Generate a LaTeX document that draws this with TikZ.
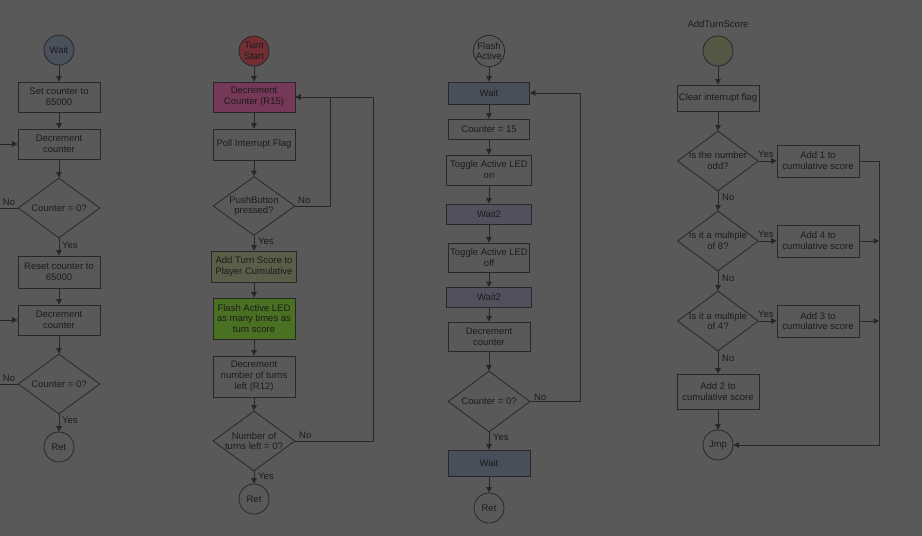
\documentclass[tikz,border=0pt]{standalone}
\usepackage{fontspec}
\setmainfont{Liberation Sans}
\usetikzlibrary{shapes.geometric,arrows.meta}
\definecolor{bg}{RGB}{89,89,89}
\definecolor{lc}{RGB}{40,40,40}
\definecolor{tc}{RGB}{28,28,28}
\definecolor{cwait}{RGB}{74,80,92}
\definecolor{cred}{RGB}{114,46,50}
\definecolor{cmag}{RGB}{118,56,88}
\definecolor{colive}{RGB}{88,94,72}
\definecolor{cgreen}{RGB}{74,112,34}
\definecolor{cslate}{RGB}{72,78,90}
\definecolor{cpurp}{RGB}{84,79,92}
\definecolor{cats}{RGB}{86,88,70}
\newcommand{\ff}{\fontsize{9.5}{10.8}\selectfont}
\tikzset{
  box/.style={draw=lc, line width=0.8pt, minimum width=82pt, minimum height=30pt, inner sep=1pt, align=center, font=\ff, text=tc},
  circ/.style={circle, draw=lc, line width=0.8pt, minimum size=30pt, inner sep=0pt, align=center, font=\ff, text=tc},
  dia/.style={diamond, draw=lc, line width=0.8pt, minimum width=82pt, minimum height=60pt, inner sep=0pt},
  dtext/.style={align=center, font=\ff, text=tc, inner sep=0pt},
  lab/.style={font=\ff, text=tc, inner sep=0pt},
  arr/.style={draw=lc, line width=0.8pt, -{Triangle[length=5.5pt,width=5.5pt]}},
  ln/.style={draw=lc, line width=0.8pt}
}
\begin{document}
\begin{tikzpicture}[x=1pt,y=-1pt]
\fill[bg] (0,0) rectangle (922,536);
\useasboundingbox (0,0) rectangle (922,536);
% ---------- Column 1 ----------
\node[circ, fill=cwait] (w) at (59,50) {Wait};
\node[box] (set) at (59,97) {Set counter to\\65000};
\node[box] (dec1) at (59,144) {Decrement\\counter};
\node[dia] (d1) at (59,208) {};
\node[dtext] (d1t) at (d1) {Counter = 0?};
\node[box, minimum height=32pt] (reset) at (59,272) {Reset counter to\\65000};
\node[box] (dec2) at (59,320) {Decrement\\counter};
\node[dia] (d2) at (59,384) {};
\node[dtext] (d2t) at (d2) {Counter = 0?};
\node[circ] (r1) at (59,447) {Ret};
\coordinate (in1) at (0,144);
\coordinate (in2) at (0,320);
\coordinate (o1) at (0,208);
\coordinate (o2) at (0,384);
\draw[arr] (w) -- (set);
\draw[arr] (set) -- (dec1);
\draw[arr] (dec1) -- (d1);
\draw[arr] (d1) -- (reset);
\draw[arr] (reset) -- (dec2);
\draw[arr] (dec2) -- (d2);
\draw[arr] (d2) -- (r1);
\draw[arr] (in1) -- (dec1);
\draw[arr] (in2) -- (dec2);
\draw[ln] (d1.west) -- (o1);
\draw[ln] (d2.west) -- (o2);
\node[lab] (n1) at (9,202) {No};
\node[lab] (n2) at (9,378) {No};
\node[lab, anchor=west] (y1) at (62,245) {Yes};
\node[lab, anchor=west] (y2) at (62,420) {Yes};
% ---------- Column 2 ----------
\node[circ, fill=cred, font=\fontsize{9.5}{10.5}\selectfont] (ts) at (254,51) {Turn\\Start};
\node[box, fill=cmag] (dc) at (254,97) {Decrement\\Counter (R15)};
\node[box, minimum height=31pt] (poll) at (254,144.5) {Poll Interrupt Flag};
\node[dia, minimum height=59pt] (pb) at (254,206) {};
\node[dtext] (pbt) at (pb) {PushButton\\pressed?};
\node[box, fill=colive, minimum width=85pt, minimum height=31pt] (add) at (254,266.5) {Add Turn Score to\\Player Cumulative};
\node[box, fill=cgreen, minimum height=41pt] (fl) at (254,318.5) {Flash Active LED\\as many times as\\turn score};
\node[box, minimum height=41pt] (dn) at (254,376.5) {Decrement\\number of turns\\left (R12)};
\node[dia] (nt) at (254,441) {};
\node[dtext] (ntt) at (nt) {Number of\\turns left = 0?};
\node[circ] (r2) at (254,499) {Ret};
\draw[arr] (ts) -- (dc);
\draw[arr] (dc) -- (poll);
\draw[arr] (poll) -- (pb);
\draw[arr] (pb) -- (add);
\draw[arr] (add) -- (fl);
\draw[arr] (fl) -- (dn);
\draw[arr] (dn) -- (nt);
\draw[arr] (nt) -- (r2);
\draw[arr] (pb.east) -- ++(35,0) |- (dc.east);
\draw[arr] (nt.east) -- ++(78,0) |- (dc.east);
\node[lab, anchor=west] (n3) at (298,200) {No};
\node[lab, anchor=west] (y3) at (258,241) {Yes};
\node[lab, anchor=west] (n4) at (299,435) {No};
\node[lab, anchor=west] (y4) at (258,476) {Yes};
% ---------- Column 3 ----------
\node[circ, font=\fontsize{9.5}{10.5}\selectfont] (fa) at (489,51) {Flash\\Active};
\node[box, fill=cslate, minimum width=81pt, minimum height=22pt] (wt1) at (489,93) {Wait};
\node[box, minimum width=81pt, minimum height=20pt] (c15) at (489,129) {Counter = 15};
\node[box, minimum width=85pt] (tg1) at (489,170) {Toggle Active LED\\on};
\node[box, fill=cpurp, minimum width=85pt, minimum height=20pt] (wa) at (489,214) {Wait2};
\node[box, minimum width=81pt, minimum height=29pt] (tg2) at (489,257.5) {Toggle Active LED\\off};
\node[box, fill=cpurp, minimum width=85pt, minimum height=20pt] (wb) at (489,297.5) {Wait2};
\node[box, minimum height=29pt] (dc3) at (489,336.5) {Decrement\\counter};
\node[dia, minimum height=61pt] (d3) at (489,401.5) {};
\node[dtext] (d3t) at (d3) {Counter = 0?};
\node[box, fill=cslate, minimum height=26pt] (wt2) at (489,463) {Wait};
\node[circ] (r3) at (489,508) {Ret};
\draw[arr] (fa) -- (wt1);
\draw[arr] (wt1) -- (c15);
\draw[arr] (c15) -- (tg1);
\draw[arr] (tg1) -- (wa);
\draw[arr] (wa) -- (tg2);
\draw[arr] (tg2) -- (wb);
\draw[arr] (wb) -- (dc3);
\draw[arr] (dc3) -- (d3);
\draw[arr] (d3) -- (wt2);
\draw[arr] (wt2) -- (r3);
\draw[arr] (d3.east) -- ++(50,0) |- (wt1.east);
\node[lab, anchor=west] (n5) at (534,397) {No};
\node[lab, anchor=west] (y5) at (493,437) {Yes};
% ---------- Column 4 ----------
\node[lab] (title) at (718,24) {AddTurnScore};
\node[circ, fill=cats] (ats) at (718,51) {};
\node[box, minimum height=26pt] (clr) at (718,98) {Clear interrupt flag};
\node[dia, minimum width=81pt] (q1) at (718,161) {};
\node[dtext] (q1t) at (q1) {Is the number\\odd?};
\node[box, minimum height=32pt] (a1) at (818,161) {Add 1 to\\cumulative score};
\node[dia, minimum width=81pt] (q2) at (718,241) {};
\node[dtext] (q2t) at (q2) {Is it a multiple\\of 8?};
\node[box, minimum height=32pt] (a4) at (818,241) {Add 4 to\\cumulative score};
\node[dia, minimum width=81pt] (q3) at (718,321) {};
\node[dtext] (q3t) at (q3) {Is it a multiple\\of 4?};
\node[box, minimum height=32pt] (a3) at (818,321) {Add 3 to\\cumulative score};
\node[box, minimum height=35pt] (a2) at (718,391.5) {Add 2 to\\cumulative score};
\node[circ] (jmp) at (718,445) {Jmp};
\coordinate (m4) at (879,241);
\coordinate (m3) at (879,321);
\draw[arr] (ats) -- (clr);
\draw[arr] (clr) -- (q1);
\draw[arr] (q1) -- (a1);
\draw[arr] (q1) -- (q2);
\draw[arr] (q2) -- (a4);
\draw[arr] (q2) -- (q3);
\draw[arr] (q3) -- (a3);
\draw[arr] (q3) -- (a2);
\draw[arr] (a2) -- (jmp);
\draw[arr] (a1.east) -- ++(20,0) |- (jmp.east);
\draw[arr] (a4) -- (m4);
\draw[arr] (a3) -- (m3);
\node[lab, anchor=west] (y6) at (758,154) {Yes};
\node[lab, anchor=west] (n6) at (722,197) {No};
\node[lab, anchor=west] (y7) at (758,234) {Yes};
\node[lab, anchor=west] (n7) at (722,278) {No};
\node[lab, anchor=west] (y8) at (758,314) {Yes};
\node[lab, anchor=west] (n8) at (722,358) {No};
\end{tikzpicture}
\end{document}
